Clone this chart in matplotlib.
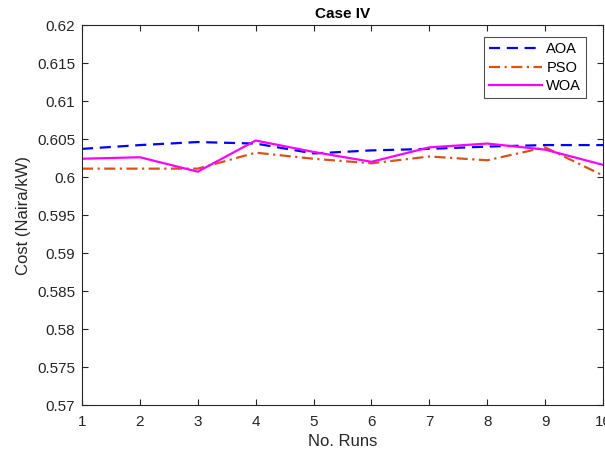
import matplotlib
matplotlib.use("Agg")
import matplotlib.pyplot as plt

runs = [1, 2, 3, 4, 5, 6, 7, 8, 9, 10]
aoa = [0.6037, 0.6042, 0.6046, 0.6044, 0.6031, 0.6035, 0.6037, 0.6040, 0.6042, 0.6042]
pso = [0.6011, 0.6011, 0.6011, 0.6032, 0.6024, 0.6018, 0.6027, 0.6022, 0.6039, 0.6002]
woa = [0.6024, 0.6026, 0.6007, 0.6048, 0.6033, 0.6020, 0.6039, 0.6044, 0.6036, 0.6016]
yticks = [0.57, 0.575, 0.58, 0.585, 0.59, 0.595, 0.6, 0.605, 0.61, 0.615, 0.62]
ytick_labels = ["0.57", "0.575", "0.58", "0.585", "0.59", "0.595", "0.6", "0.605", "0.61", "0.615", "0.62"]

plt.rcParams['font.family'] = ['Liberation Sans', 'DejaVu Sans']

fig = plt.figure(figsize=(6.05, 4.54), dpi=100)
ax = fig.add_axes([82/605, 1-405/454, 521/605, 380/454])

ax.plot(runs, aoa, color=(0, 0, 1), linestyle=(0, (5, 3)), linewidth=1.6, label="AOA")
ax.plot(runs, pso, color=(0.85, 0.325, 0.098), linestyle=(0, (5, 2, 1, 2)), linewidth=1.6, label="PSO")
ax.plot(runs, woa, color=(1, 0, 1), linestyle='-', linewidth=1.6, label="WOA")

ax.set_xlim(1, 10)
ax.set_ylim(0.57, 0.62)
ax.set_xticks(runs)
ax.set_yticks(yticks)
ax.set_yticklabels(ytick_labels)
ax.tick_params(direction='in', top=True, right=True, labelsize=11, colors='#262626', length=4)
ax.tick_params(axis='x', pad=7)
ax.tick_params(axis='y', pad=5)
for s in ax.spines.values():
    s.set_color('#262626')
    s.set_linewidth(0.8)

ax.set_title("Case IV", fontsize=11, fontweight='bold', pad=5)
ax.set_xlabel("No. Runs", fontsize=12, color='#262626', labelpad=4)
ax.set_ylabel("Cost (Naira/kW)", fontsize=12, color='#262626', labelpad=4)

leg = ax.legend(loc='upper right', bbox_to_anchor=(0.968, 0.968), fontsize=10.5, frameon=True,
                fancybox=False, edgecolor='#262626', handlelength=3.6, handletextpad=0.3,
                borderpad=0.35, labelspacing=0.3, borderaxespad=0)
leg.get_frame().set_linewidth(0.8)

fig.savefig("out.png", dpi=100)
